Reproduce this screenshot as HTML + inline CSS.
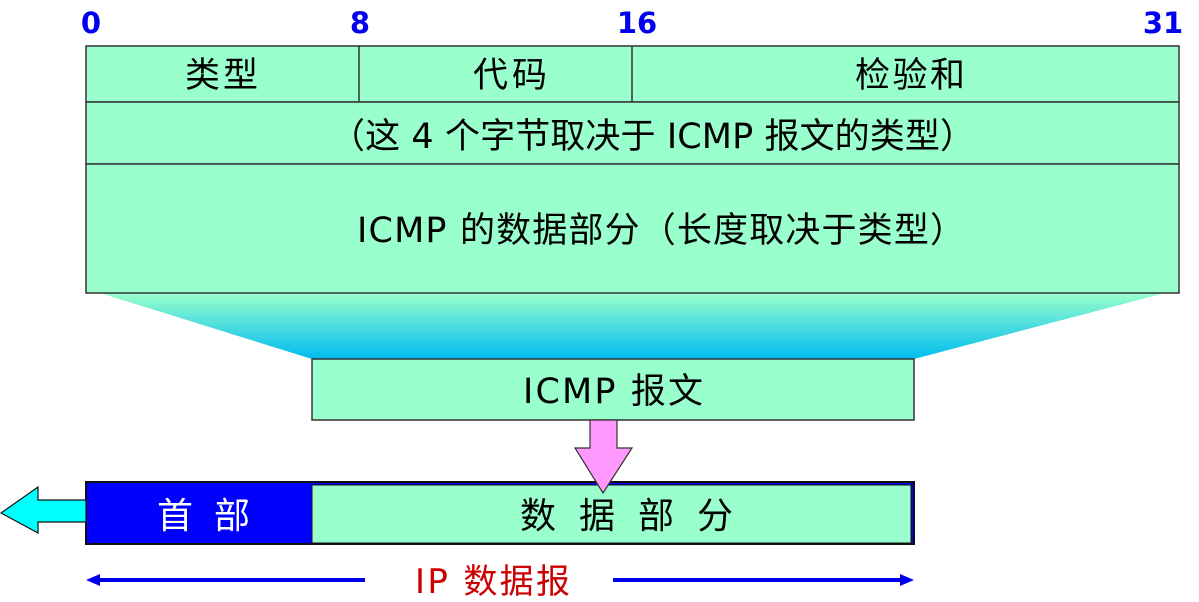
<!DOCTYPE html>
<html><head><meta charset="utf-8"><style>
body{margin:0;background:#fff;width:1199px;height:597px;overflow:hidden}
svg text{font-family:"DejaVu Sans","Noto Sans CJK SC",sans-serif}
</style></head><body>
<svg width="1199" height="597" viewBox="0 0 1199 597" xmlns="http://www.w3.org/2000/svg">
<defs><linearGradient id="g" x1="0" y1="0" x2="0" y2="1"><stop offset="0" stop-color="#99ffcc"/><stop offset="1" stop-color="#00bbee"/></linearGradient></defs>
<polygon points="100,293 1165,293 914,359 312,359" fill="url(#g)"/>
<g font-weight="bold" fill="#0000ee" font-size="29" text-anchor="middle" style="font-family:'Liberation Sans',sans-serif">
<text x="91" y="33">0</text><text x="360" y="33">8</text><text x="637" y="33">16</text><text x="1163" y="33">31</text></g>
<g fill="#99ffcc" stroke="#333" stroke-width="1.5">
<rect x="86" y="46" width="1093" height="56"/><rect x="86" y="102" width="1093" height="62"/><rect x="86" y="164" width="1093" height="129"/>
<line x1="359" y1="46" x2="359" y2="102"/><line x1="632" y1="46" x2="632" y2="102"/>
<rect x="312" y="359" width="602" height="61"/>
</g>
<g font-size="35" fill="#000">
<text x="185" y="87" textLength="73">类型</text>
<text x="473" y="87" textLength="74">代码</text>
<text x="855" y="87" textLength="110">检验和</text>
<text x="330" y="148" textLength="645">（这 4 个字节取决于 ICMP 报文的类型）</text>
<text x="357" y="242" textLength="608">ICMP 的数据部分（长度取决于类型）</text>
<text x="523" y="403" textLength="180">ICMP 报文</text>
</g>
<rect x="86" y="482" width="828" height="62" fill="#0000ff" stroke="#111" stroke-width="2"/>
<rect x="312" y="485" width="599" height="58" fill="#99ffcc" stroke="#111" stroke-width="1"/>
<text x="157" y="528" font-size="36" fill="#fff" textLength="93">首 部</text>
<text x="520" y="528" font-size="36" fill="#000" textLength="213">数 据 部 分</text>
<polygon points="590,420 617,420 617,448 632,448 603,493 575,448 590,448" fill="#ff99ff" stroke="#333" stroke-width="1.2"/>
<polygon points="86,500 38,500 38,487 1,513 38,533 38,522 86,522" fill="#00ffff" stroke="#111" stroke-width="1.2"/>
<g stroke="#0000ee" stroke-width="4"><line x1="96" y1="580" x2="365" y2="580"/><line x1="613" y1="580" x2="904" y2="580"/></g>
<polygon points="86,580 100,574 100,586" fill="#0000ee"/><polygon points="914,580 900,574 900,586" fill="#0000ee"/>
<text x="415" y="593" font-size="34" fill="#cc0000" textLength="155">IP 数据报</text>
</svg>
</body></html>
